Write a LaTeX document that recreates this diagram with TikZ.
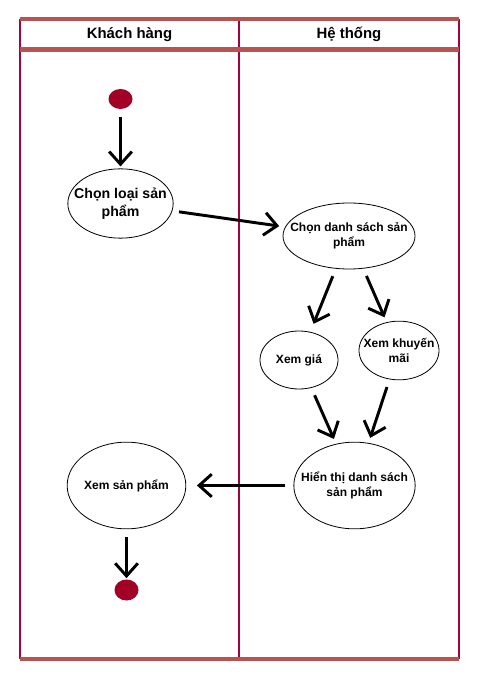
\documentclass[tikz,border=0pt]{standalone}
\usepackage{fontspec}
\setmainfont{Liberation Sans}
\usetikzlibrary{shapes.geometric,arrows.meta}
\definecolor{laneh}{HTML}{B85450}
\definecolor{lanev}{HTML}{A50040}
\definecolor{dotc}{HTML}{A20025}
\tikzset{
  act/.style={draw=black, line width=0.6pt, ellipse, inner sep=0pt},
  lbl/.style={align=center, inner sep=0pt, font=\bfseries\fontsize{9}{11}\selectfont},
  biglbl/.style={align=center, inner sep=0pt, font=\bfseries\fontsize{10.6}{13.5}\selectfont},
  dot/.style={ellipse, fill=dotc, draw=none, minimum width=18pt, minimum height=15pt, inner sep=0pt},
  flow/.style={line width=2.2pt, -{Straight Barb[length=9.5pt,width=17pt,line width=2.2pt]}, shorten <=6pt, shorten >=4pt},
  hline/.style={draw=laneh, line width=3.2pt},
  vline/.style={draw=lanev, line width=2pt},
  lanetitle/.style={font=\bfseries\fontsize{11.2}{13}\selectfont}
}
\begin{document}
\begin{tikzpicture}[x=0.75pt,y=-0.75pt]
\useasboundingbox (0,0) rectangle (480,680);
% lanes
\coordinate (tl) at (20,19);
\coordinate (tr) at (459,19);
\coordinate (hl) at (20,49.5);
\coordinate (hr) at (459,49.5);
\coordinate (bl) at (20,659);
\coordinate (br) at (459,659);
\coordinate (mt) at (239,19);
\coordinate (mb) at (239,659);
\draw[vline] (tl) -- (bl);
\draw[vline] (tr) -- (br);
\draw[vline] (mt) -- (mb);
\draw[hline] (tl) -- (tr);
\draw[hline] (hl) -- (hr);
\draw[hline] (bl) -- (br);
\node[lanetitle] (t1) at (129.5,34.5) {Khách hàng};
\node[lanetitle] (t2) at (349,34.5) {Hệ thống};
% nodes
\node[dot] (start) at (120.5,99) {};
\node[act, minimum width=79pt, minimum height=52pt, label={[biglbl]center:Chọn loại sản\\phẩm}] (chonloai) at (120.5,203.5) {};
\node[act, minimum width=99pt, minimum height=49.5pt, label={[lbl]center:Chọn danh sách sản\\phẩm}] (chonds) at (349,236) {};
\node[act, minimum width=58.5pt, minimum height=43.5pt, label={[lbl]center:Xem giá}] (gia) at (299,360) {};
\node[act, minimum width=60pt, minimum height=44pt, label={[lbl]center:Xem khuyến\\mãi}] (km) at (399,350.5) {};
\node[act, minimum width=91pt, minimum height=65pt, label={[lbl]center:Hiển thị danh sách\\sản phẩm}] (hienthi) at (354.5,485.5) {};
\node[act, minimum width=89pt, minimum height=65pt, label={[lbl]center:Xem sản phẩm}] (xemsp) at (126.5,485.5) {};
\node[dot, minimum height=15.75pt] (end) at (126.5,590) {};
% flows
\draw[flow, shorten >=1.5pt] (start) -- (start |- chonloai.north);
\draw[flow, shorten <=5pt, shorten >=4.5pt] (chonloai) -- (chonds);
\draw[flow, shorten >=6.5pt] (chonds) -- (gia);
\draw[flow] (chonds) -- (km);
\draw[flow] (gia) -- (hienthi);
\draw[flow] (km) -- (hienthi);
\draw[flow, shorten >=8pt] (hienthi) -- (xemsp);
\draw[flow, shorten >=0.8pt] (xemsp) -- (end);
\end{tikzpicture}
\end{document}
